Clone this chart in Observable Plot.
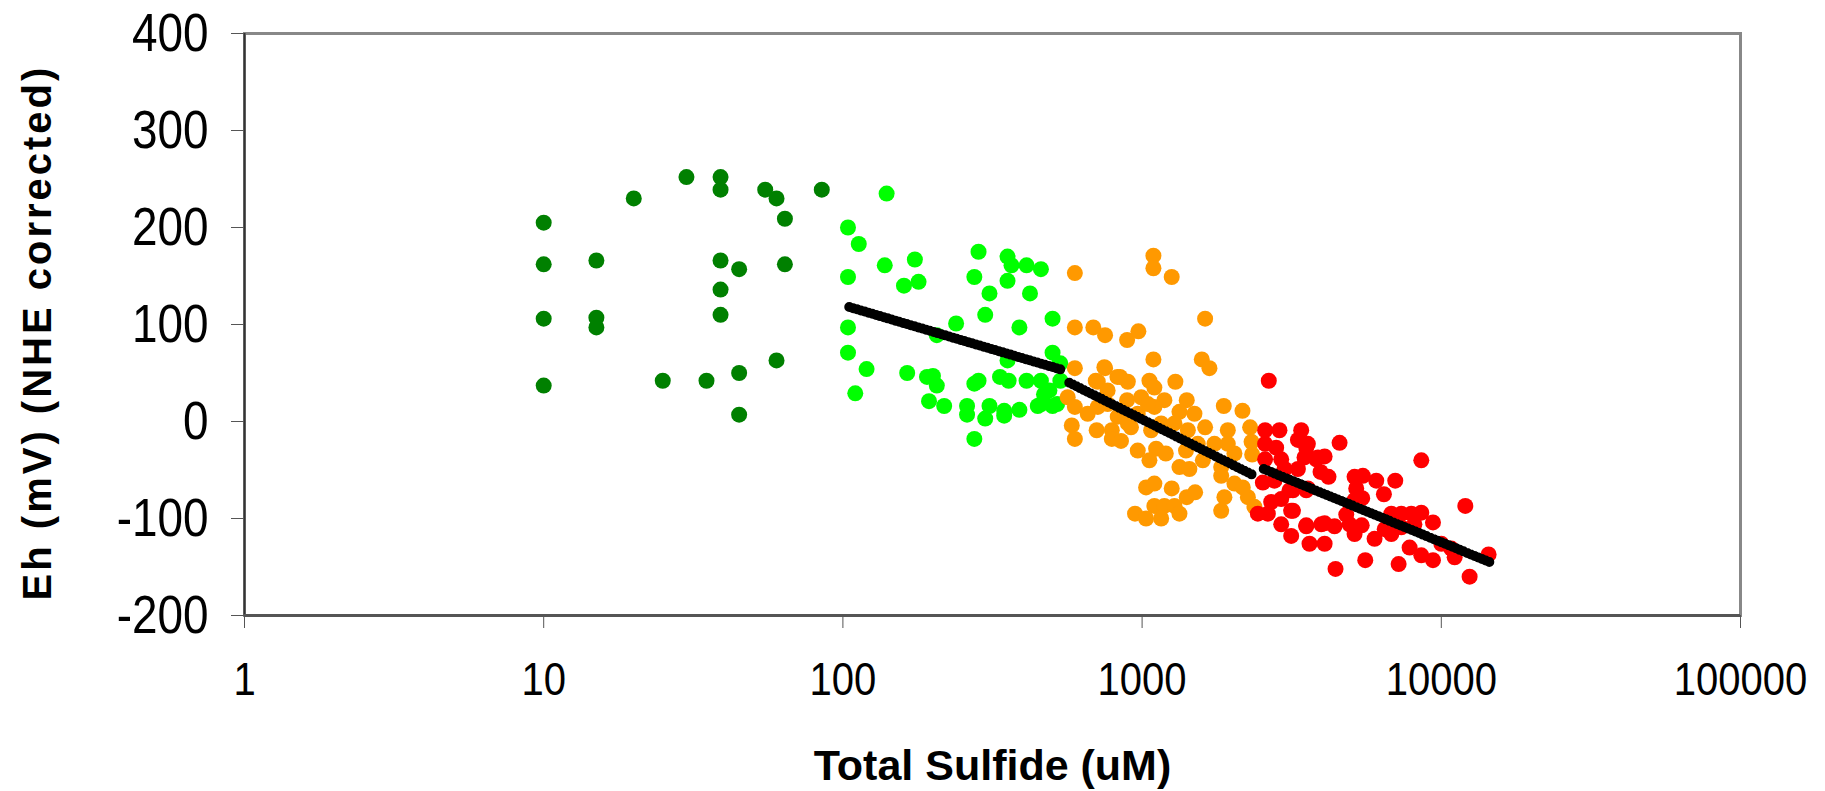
<!DOCTYPE html>
<html>
<head>
<meta charset="utf-8">
<script src="https://cdn.jsdelivr.net/npm/d3@7"></script>
<script src="https://cdn.jsdelivr.net/npm/@observablehq/plot@0.6"></script>
<style>
  html, body { margin: 0; padding: 0; background: #fff; }
  #chart { width: 1825px; height: 791px; }
</style>
</head>
<body>
<div id="chart"></div>
<script>
// ---- data (Total Sulfide uM, Eh mV) ----
const darkGreen = [
  [10,205],[10,162],[10,106],[10,37],[15,166],[15,107],[15,97],[20,230],[30,252],
  [39,252],[39,239],[39,166],[39,136],[39,110],[55,239],[60,230],[64,209],[64,162],
  [45,157],[85,239],[25,42],[35,42],[45,50],[60,63],[45,7]
];
const lightGreen = [
  [140,235],[104,200],[113,183],[138,161],[174,167],[104,149],[160,140],[179,144],
  [284,175],[275,149],[355,170],[366,161],[411,161],[459,157],[355,145],[309,132],
  [422,132],[299,110],[239,101],[389,97],[502,106],[104,97],[104,71],[120,54],[110,29],
  [206,89],[164,50],[191,46],[200,47],[206,37],[194,21],[218,16],[260,16],[260,7],
  [275,39],[284,42],[309,16],[299,3],[275,-18],[335,46],[358,42],[346,11],[346,6],
  [389,12],[355,63],[411,42],[459,42],[502,71],[533,60],[533,42],[490,32],[448,16],
  [502,16],[527,59],[470,28],[520,18],[460,18]
];
const orange = [
  [1091,171],[1091,158],[1256,149],[596,153],[1624,106],[596,97],[687,97],[752,89],
  [891,84],[972,93],[1091,64],[1583,64],[1679,55],[596,55],[752,55],[844,46],[896,41],
  [1058,42],[1292,41],[711,41],[1099,35],[564,25],[767,32],[891,22],[993,25],[1187,22],
  [1410,22],[1875,16],[2165,11],[596,15],[658,8],[829,5],[967,8],[1099,15],[1333,10],
  [1496,8],[582,-4],[705,-9],[792,-9],[918,-6],[1072,-9],[1624,-6],[1934,-9],[2296,-6],
  [596,-18],[792,-18],[850,-20],[967,-30],[1114,-28],[1200,-33],[1402,-30],[1596,-40],
  [1058,-40],[1333,-47],[1439,-49],[1838,-47],[2035,-33],[2333,-34],[1838,-56],[2035,-64],
  [1031,-68],[1099,-64],[1256,-69],[1410,-78],[1504,-73],[1099,-87],[1187,-87],[1283,-87],
  [947,-95],[1031,-100],[1158,-100],[1333,-95],[1838,-92],[1884,-78],[2257,-78],[2374,-88],
  [2170,-68],[2322,-21],[767,18],[711,15],[1283,-2],[1422,-9],[1158,-2],[1535,-23],
  [1934,-23],[1745,-23],[896,-2],[1045,18],[748,56],[827,46],[700,42]
];
const red = [
  [2651,42],[2577,-9],[2878,-9],[3402,-9],[2577,-23],[2806,-27],[3581,-23],[3869,-37],
  [2577,-39],[2917,-39],[3317,-49],[2994,-49],[2533,-63],[2770,-61],[3110,-71],[3581,-69],
  [2700,-83],[2917,-80],[3148,-92],[2437,-95],[2632,-95],[2917,-106],[3537,-107],[3970,-106],
  [3317,-19],[3537,-27],[3490,-37],[3820,-39],[4074,-36],[4571,-22],[3948,-52],[4198,-57],
  [3537,-71],[3192,-71],[3192,-92],[5130,-57],[5470,-56],[6062,-61],[7016,-61],[5196,-69],
  [5440,-79],[6430,-75],[8573,-40],[12030,-87],[4812,-96],[4074,-105],[4397,-108],
  [3537,-108],[3150,-118],[3627,-126],[4074,-126],[4936,-106],[5130,-116],[5420,-107],
  [5983,-121],[6470,-111],[6807,-95],[7350,-95],[7937,-95],[8573,-94],[9380,-104],
  [6807,-116],[7350,-109],[8130,-106],[7836,-130],[8573,-138],[9380,-143],[7200,-147],
  [5570,-143],[4431,-152],[10000,-126],[10800,-131],[11082,-140],[12434,-160],[14390,-137],
  [5130,-81]
];
// trend line end points
const greenTrend  = [[105,118],[543,53]];
const orangeTrend = [[571,40],[2374,-56]];
const redTrend    = [[2550,-49],[14500,-145]];

const xTicks = [1, 10, 100, 1000, 10000, 100000];
const yTicks = [-200, -100, 0, 100, 200, 300, 400];
const xTitle = "Total Sulfide (uM)";
const yTitle = "Eh (mV) (NHE corrected)";

const sans = "'Liberation Sans', Arial, sans-serif";

const dot = (data, color) => Plot.dot(data, {x: d => d[0], y: d => d[1], r: 8, fill: color, stroke: "none"});
const trend = (data) => Plot.line(data, {x: d => d[0], y: d => d[1], stroke: "#000", strokeWidth: 10,
  strokeLinecap: "round", strokeDasharray: "0 4"});

const chart = Plot.plot({
  width: 1825,
  height: 791,
  marginLeft: 244,
  marginRight: 85,
  marginTop: 33,
  marginBottom: 176,
  style: {background: "#fff", color: "#000", fontFamily: sans, overflow: "visible"},
  x: {type: "log", domain: [1, 100000]},
  y: {domain: [-200, 400]},
  marks: [
    Plot.frame({stroke: "#888", strokeWidth: 3}),
    Plot.ruleX([1], {stroke: "#333", strokeWidth: 2}),
    Plot.ruleY([-200], {stroke: "#555", strokeWidth: 3}),
    Plot.axisY({ticks: yTicks, tickSize: 13, tickPadding: 23, tickFormat: d => String(d),
      fontSize: 54, stroke: "#555", label: null}),
    Plot.axisX({ticks: xTicks, tickSize: 13, tickPadding: 34, tickFormat: d => String(d),
      fontSize: 46, stroke: "#555", label: null}),
    dot(darkGreen, "#008000"),
    dot(lightGreen, "#00FF00"),
    dot(orange, "#FF9900"),
    dot(red, "#FF0000"),
    trend(greenTrend),
    trend(orangeTrend),
    trend(redTrend),
    Plot.text([xTitle], {frameAnchor: "bottom", dy: 164, fontSize: 43, fontWeight: "bold"}),
    Plot.text([yTitle], {frameAnchor: "left", textAnchor: "middle", dx: -206, dy: 8, rotate: -90,
      fontSize: 40, fontWeight: "bold"})
  ]
});
// condensed look of the tick labels (Arial Narrow in the original)
const condense = (sel, k) => chart.querySelectorAll(sel).forEach(t => {
  const tr = t.getAttribute("transform") || "";
  t.setAttribute("transform", tr + ` scale(${k},1)`);
});
condense('g[aria-label="y-axis tick label"] text', 0.85);
condense('g[aria-label="x-axis tick label"] text', 0.87);
chart.querySelectorAll("text").forEach(t => {
  if (t.textContent === yTitle) t.setAttribute("letter-spacing", "3px");
});
document.getElementById("chart").appendChild(chart);
</script>
</body>
</html>
